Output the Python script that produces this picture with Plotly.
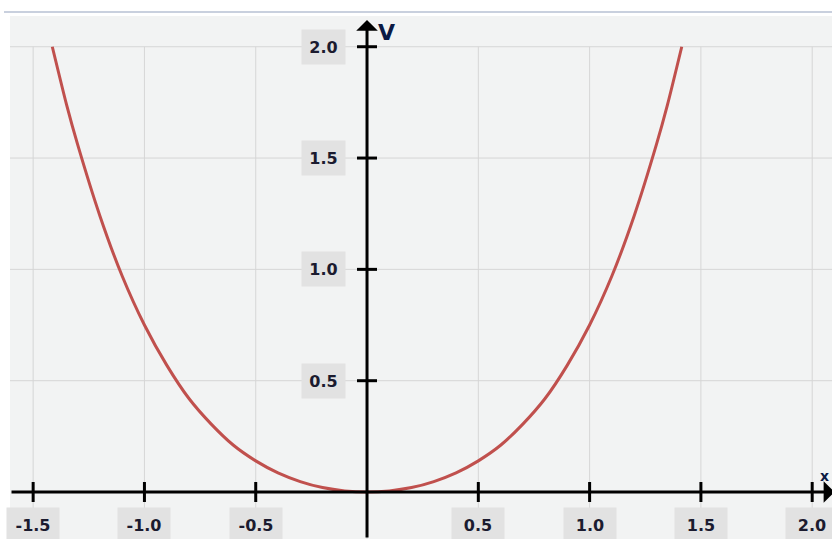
import plotly.graph_objects as go

# Potential curve V(x), sampled points
x_vals = [-1.414, -1.35, -1.3, -1.2, -1.1, -1.0, -0.9, -0.8, -0.7, -0.6, -0.5, -0.4, -0.3, -0.2, -0.1, 0.0,
          0.1, 0.2, 0.3, 0.4, 0.5, 0.6, 0.7, 0.8, 0.9, 1.0, 1.1, 1.2, 1.3, 1.35, 1.414]
v_vals = [2.0, 1.74, 1.56, 1.24, 0.97, 0.75, 0.57, 0.42, 0.305, 0.21, 0.14, 0.086, 0.047, 0.02, 0.005, 0.0,
          0.005, 0.02, 0.047, 0.086, 0.14, 0.21, 0.305, 0.42, 0.57, 0.75, 0.97, 1.24, 1.56, 1.74, 2.0]

x_ticks = [-1.5, -1.0, -0.5, 0.5, 1.0, 1.5, 2.0]
x_tick_labels = ["-1.5", "-1.0", "-0.5", "0.5", "1.0", "1.5", "2.0"]
y_ticks = [0.5, 1.0, 1.5, 2.0]
y_tick_labels = ["0.5", "1.0", "1.5", "2.0"]
grid_x = [-1.5, -1.0, -0.5, 0.0, 0.5, 1.0, 1.5, 2.0]
grid_y = [0.5, 1.0, 1.5, 2.0]

X_MIN, X_MAX = -1.604, 2.089
Y_MIN, Y_MAX = -0.211, 2.138

FONT = "DejaVu Sans, Verdana, sans-serif"
LABEL_COLOR = "#1b1b2f"
BOX_COLOR = "#e2e2e2"

fig = go.Figure()

fig.add_trace(go.Scatter(
    x=x_vals, y=v_vals, mode="lines",
    line=dict(color="#c0504d", width=3, shape="spline", smoothing=0.6),
    hoverinfo="skip", showlegend=False,
))

shapes = []
# grid lines
for gx in grid_x:
    shapes.append(dict(type="line", xref="x", yref="y", x0=gx, x1=gx, y0=Y_MIN, y1=2.0,
                       line=dict(color="#d6d6d6", width=1), layer="below"))
for gy in grid_y:
    shapes.append(dict(type="line", xref="x", yref="y", x0=X_MIN, x1=X_MAX, y0=gy, y1=gy,
                       line=dict(color="#d6d6d6", width=1), layer="below"))

# tick crosses on the axes
for tx in x_ticks:
    shapes.append(dict(type="line", xref="x", yref="y", ysizemode="pixel", yanchor=0,
                       x0=tx, x1=tx, y0=-10, y1=10, line=dict(color="black", width=3)))
for ty in y_ticks:
    shapes.append(dict(type="line", xref="x", yref="y", xsizemode="pixel", xanchor=0,
                       x0=-10, x1=10, y0=ty, y1=ty, line=dict(color="black", width=3)))

# thin border line above the plot area
shapes.append(dict(type="line", xref="paper", yref="paper", x0=-6 / 822, x1=1.0,
                   y0=1 + 4 / 523, y1=1 + 4 / 523, line=dict(color="#c9d0de", width=2)))

annotations = []
# axes drawn as arrows through the origin
annotations.append(dict(x=0, y=2.12, ax=0, ay=Y_MIN, xref="x", yref="y", axref="x", ayref="y",
                        showarrow=True, arrowhead=1, arrowsize=1.2, arrowwidth=3, arrowcolor="black",
                        text=""))
annotations.append(dict(x=2.10, y=0, ax=X_MIN, ay=0, xref="x", yref="y", axref="x", ayref="y",
                        showarrow=True, arrowhead=1, arrowsize=1.2, arrowwidth=3, arrowcolor="black",
                        text=""))

# tick labels in shaded boxes
for tx, lab in zip(x_ticks, x_tick_labels):
    annotations.append(dict(x=tx, y=0, xref="x", yref="y", yshift=-33, showarrow=False,
                            text=f"<b>{lab}</b>", font=dict(family=FONT, size=16, color=LABEL_COLOR),
                            bgcolor=BOX_COLOR, width=50, height=32, align="center", valign="middle"))
for ty, lab in zip(y_ticks, y_tick_labels):
    annotations.append(dict(x=0, y=ty, xref="x", yref="y", xshift=-44, showarrow=False,
                            text=f"<b>{lab}</b>", font=dict(family=FONT, size=16, color=LABEL_COLOR),
                            bgcolor=BOX_COLOR, width=41, height=32, align="center", valign="middle"))

# axis names
annotations.append(dict(x=0, y=2.12, xref="x", yref="y", xshift=19, yshift=-12, showarrow=False,
                        text="<b>V</b>", font=dict(family=FONT, size=22, color="#0c1a44")))
annotations.append(dict(x=X_MAX, y=0, xref="x", yref="y", xshift=-1, yshift=16, showarrow=False,
                        xanchor="right", text="<b>x</b>", font=dict(family=FONT, size=14, color="#0c1a44")))

fig.update_layout(
    width=832, height=539,
    margin=dict(l=10, r=0, t=16, b=0),
    paper_bgcolor="white",
    plot_bgcolor="#f2f3f3",
    xaxis=dict(range=[X_MIN, X_MAX], showgrid=False, zeroline=False, showticklabels=False,
               ticks="", fixedrange=True),
    yaxis=dict(range=[Y_MIN, Y_MAX], showgrid=False, zeroline=False, showticklabels=False,
               ticks="", fixedrange=True),
    shapes=shapes,
    annotations=annotations,
    showlegend=False,
)

fig.write_html("out.html", config={"displayModeBar": False})
